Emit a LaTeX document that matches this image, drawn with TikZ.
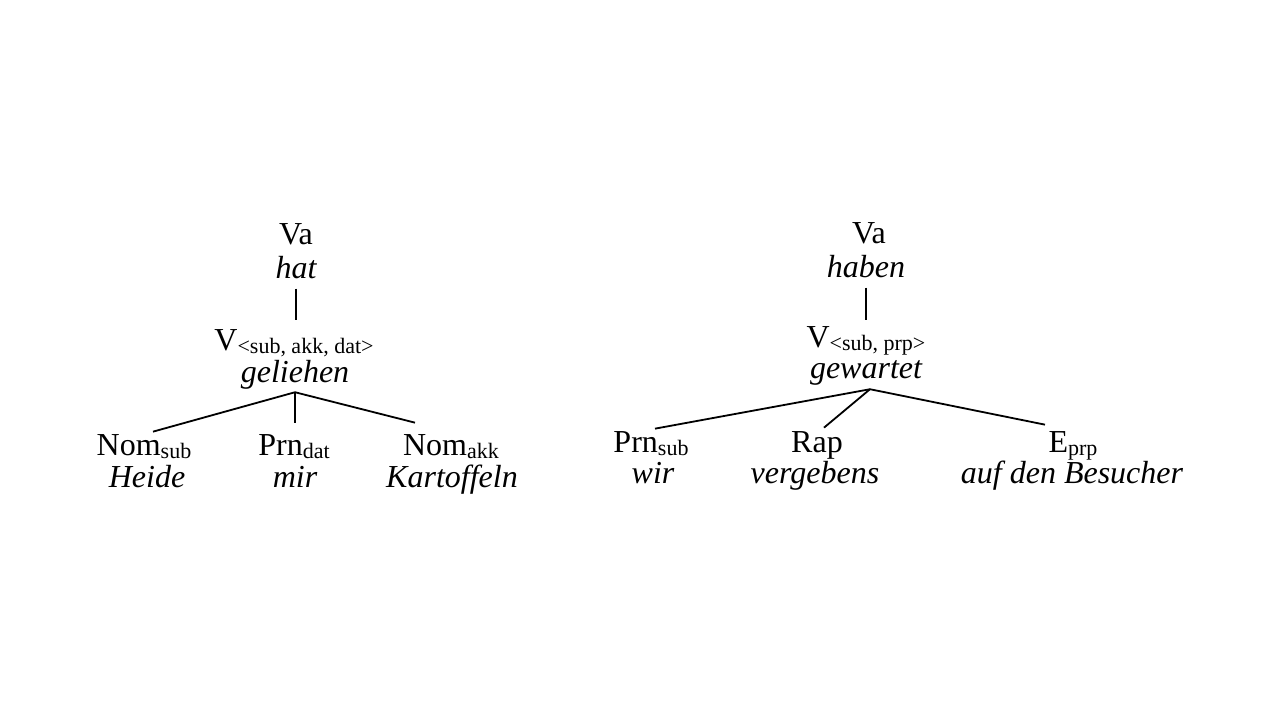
\documentclass[tikz,border=0pt]{standalone}
\usepackage{fontspec}
\setmainfont{Liberation Serif}
\newcommand{\lowtag}[1]{\raisebox{-1.5pt}{\fontsize{11}{11}\selectfont #1}}

\begin{document}
\begin{tikzpicture}[x=0.5pt,y=-0.5pt]
    \tikzstyle{every node}+=[inner sep=0pt, anchor=base]
    \tikzstyle{cat}=[font=\fontsize{16}{19}\selectfont]
    \tikzstyle{word}=[font=\fontsize{16}{19}\selectfont\itshape]
    \tikzstyle{branch}=[black, line width=0.9pt]
    \useasboundingbox (0,0) rectangle (1280,720);
    \node [cat] (va1) at (296,244) {Va};
    \node [word] (hat) at (296,278) {hat};
    \node [cat] (v1) at (294,350) {V\lowtag{<sub, akk, dat>}};
    \node [word] (geliehen) at (295,382) {geliehen};
    \node [cat] (nomsub) at (144,455) {Nom\lowtag{sub}};
    \node [word] (heide) at (147,487) {Heide};
    \node [cat] (prndat) at (294,455) {Prn\lowtag{dat}};
    \node [word] (mir) at (295,487) {mir};
    \node [cat] (nomakk) at (451,455) {Nom\lowtag{akk}};
    \node [word] (kartoffeln) at (452,487) {Kartoffeln};
    \coordinate (j1) at ([yshift=-1.5pt]geliehen.south);
    \coordinate (s1) at (hat.south |- v1.north);
    \coordinate (m1) at (j1 |- prndat.north);
    \draw [branch] ([yshift=-5pt]hat.south) -- ([yshift=4.5pt]s1);
    \draw [branch] (j1) -- ([xshift=4.5pt,yshift=1pt]nomsub.north);
    \draw [branch] (j1) -- ([yshift=5.5pt]m1);
    \draw [branch] (j1) -- ([xshift=-18pt,yshift=5.5pt]nomakk.north);
    \node [cat] (va2) at (869,243) {Va};
    \node [word] (haben) at (866,277) {haben};
    \node [cat] (v2) at (866,347) {V\lowtag{<sub, prp>}};
    \node [word] (gewartet) at (866,378) {gewartet};
    \node [cat] (prnsub) at (651,452) {Prn\lowtag{sub}};
    \node [word] (wir) at (653,483) {wir};
    \node [cat] (rap) at (817,452) {Rap};
    \node [word] (vergebens) at (815,483) {vergebens};
    \node [cat] (eprp) at (1073,452) {E\lowtag{prp}};
    \node [word] (besucher) at (1072,483) {auf den Besucher};
    \coordinate (j2) at ([xshift=2pt,yshift=-2pt]gewartet.south);
    \coordinate (s2) at (haben.south |- v2.north);
    \draw [branch] ([yshift=-5pt]haben.south) -- ([yshift=3pt]s2);
    \draw [branch] (j2) -- ([xshift=2pt,yshift=1pt]prnsub.north);
    \draw [branch] (j2) -- ([xshift=3.5pt,yshift=1.5pt]rap.north);
    \draw [branch] (j2) -- ([xshift=-14pt,yshift=3pt]eprp.north);
\end{tikzpicture}
\end{document}
